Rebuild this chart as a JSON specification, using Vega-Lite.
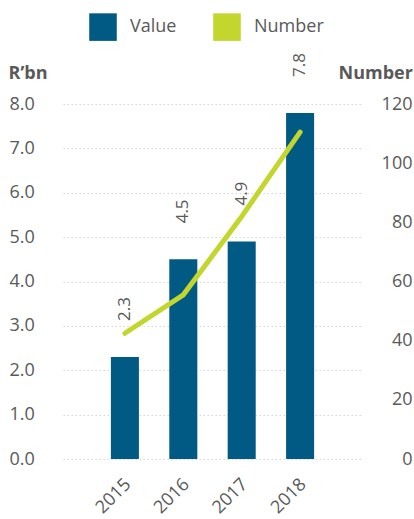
{
  "$schema": "https://vega.github.io/schema/vega-lite/v6.json",
  "autosize": {"type": "none"},
  "width": 299,
  "height": 355,
  "padding": {"left": 63, "top": 104, "right": 52, "bottom": 60},
  "background": "white",
  "config": {
    "view": {"stroke": null},
    "font": "Open Sans",
    "axis": {"labelFont": "Open Sans", "titleFont": "Open Sans", "labelColor": "#595959", "titleColor": "#595959", "labelFontSize": 18, "titleFontSize": 18}
  },
  "data": {"values": [
    {"year": "2015", "value": 2.3, "number": 42.5},
    {"year": "2016", "value": 4.5, "number": 55.5},
    {"year": "2017", "value": 4.9, "number": 82},
    {"year": "2018", "value": 7.8, "number": 110.5}
  ]},
  "encoding": {
    "x": {"field": "year", "type": "nominal", "scale": {"paddingInner": 0.52, "paddingOuter": 0.82},
      "axis": {"title": null, "labelAngle": -45, "domain": false, "ticks": false, "labelPadding": 16, "labelOffset": -3, "labelFontSize": 18}}
  },
  "layer": [
    {
      "mark": {"type": "bar", "color": "#005a84"},
      "encoding": {
        "y": {"field": "value", "type": "quantitative", "scale": {"domain": [0, 8]},
          "axis": {"title": "R’bn", "titleAngle": 0, "titleFontWeight": "bold", "titleAlign": "left", "titleBaseline": "alphabetic", "titleX": -55, "titleY": -26,
            "values": [0,1,2,3,4,5,6,7,8], "format": ".1f", "domain": false, "ticks": false, "labelAlign": "left", "labelPadding": 54,
            "grid": true, "gridColor": "#d4d4d4", "gridDash": [1.5, 2.5], "gridWidth": 1}},
        "color": {"datum": "Value", "type": "nominal",
          "scale": {"domain": ["Value", "Number"], "range": ["#005a84", "#c2d62e"]},
          "legend": {"title": null, "orient": "none", "legendX": 26, "legendY": -91, "direction": "horizontal",
            "symbolType": "square", "symbolSize": 760, "labelFontSize": 18, "labelColor": "#595959", "labelFont": "Open Sans",
            "labelOffset": 13, "columnPadding": 36,
            "encode": {"symbols": {"update": {"fill": {"scale": "color", "field": "value"}, "stroke": {"value": "transparent"}, "strokeWidth": {"value": 0}}}}}}
      }
    },
    {
      "mark": {"type": "text", "angle": 270, "align": "left", "baseline": "middle", "dx": 36, "fontSize": 17, "color": "#595959", "font": "Open Sans"},
      "encoding": {
        "y": {"field": "value", "type": "quantitative", "scale": {"domain": [0, 8]}, "axis": null},
        "text": {"field": "value", "type": "quantitative", "format": ".1f"}
      }
    },
    {
      "mark": {"type": "line", "color": "#c2d62e", "strokeWidth": 5, "strokeCap": "round"},
      "encoding": {
        "y": {"field": "number", "type": "quantitative", "scale": {"domain": [0, 120]},
          "axis": {"orient": "right", "title": "Number", "titleAngle": 0, "titleFontWeight": "bold", "titleAlign": "left", "titleBaseline": "alphabetic", "titleX": -24, "titleY": -26,
            "values": [0,20,40,60,80,100,120], "domain": false, "ticks": false, "grid": false, "labelAlign": "right", "labelPadding": 50}},
        "color": {"datum": "Number", "type": "nominal"}
      }
    }
  ],
  "resolve": {"scale": {"y": "independent"}}
}
